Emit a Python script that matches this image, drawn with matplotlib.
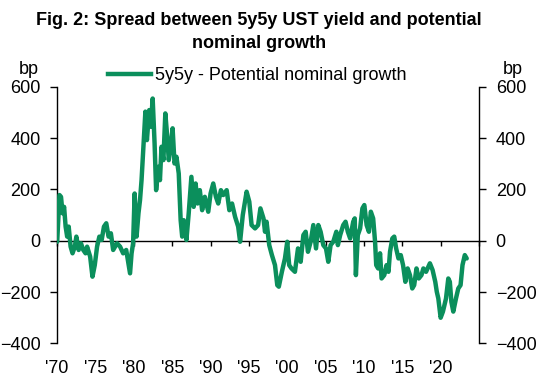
import matplotlib
matplotlib.use("Agg")
import matplotlib.pyplot as plt
from matplotlib.lines import Line2D

plt.rcParams['font.family'] = ['Liberation Sans', 'DejaVu Sans']

# decimal year, spread in bp (5y5y - potential nominal growth)
years = [
    1970.0, 1970.3, 1970.5, 1970.7, 1970.9, 1971.1, 1971.3, 1971.5, 1971.75, 1972.0,
    1972.3, 1972.5, 1972.8, 1973.1, 1973.4, 1973.7, 1973.9, 1974.3, 1974.6, 1974.9,
    1975.2, 1975.5, 1975.8, 1976.1, 1976.4, 1976.7, 1977.0, 1977.3, 1977.8, 1978.2,
    1978.6, 1979.0, 1979.5, 1979.7, 1979.9, 1980.1, 1980.35, 1980.6, 1980.8, 1981.0,
    1981.2, 1981.5, 1981.7, 1982.0, 1982.2, 1982.45, 1982.7, 1982.9, 1983.2, 1983.4,
    1983.6, 1983.85, 1984.1, 1984.35, 1984.55, 1984.8, 1985.05, 1985.3, 1985.55, 1985.85,
    1986.1, 1986.3, 1986.5, 1986.85, 1987.15, 1987.5, 1987.8, 1988.05, 1988.3, 1988.6,
    1988.9, 1989.25, 1989.7, 1990.0, 1990.35, 1990.7, 1991.0, 1991.35, 1991.65, 1992.1,
    1992.45, 1992.8, 1993.2, 1993.6, 1993.85, 1994.2, 1994.7, 1995.05, 1995.35, 1995.8,
    1996.2, 1996.5, 1996.9, 1997.1, 1997.3, 1997.65, 1998.0, 1998.4, 1998.7, 1998.9,
    1999.3, 1999.7, 2000.0, 2000.25, 2000.55, 2001.0, 2001.4, 2001.75, 2002.1, 2002.4,
    2002.7, 2003.05, 2003.4, 2003.75, 2004.05, 2004.35, 2004.7, 2005.05, 2005.35, 2005.65,
    2006.0, 2006.4, 2006.6, 2006.9, 2007.3, 2007.6, 2007.9, 2008.2, 2008.6, 2008.8,
    2008.95, 2009.2, 2009.5, 2009.8, 2010.05, 2010.35, 2010.65, 2010.9, 2011.2, 2011.45,
    2011.6, 2011.85, 2012.1, 2012.3, 2012.65, 2012.95, 2013.2, 2013.4, 2013.7, 2013.95,
    2014.2, 2014.5, 2014.8, 2015.1, 2015.4, 2015.7, 2016.0, 2016.3, 2016.55, 2016.85,
    2017.15, 2017.5, 2017.75, 2018.1, 2018.6, 2018.95, 2019.3, 2019.5, 2019.7, 2020.0,
    2020.3, 2020.7, 2021.0, 2021.2, 2021.4, 2021.65, 2022.0, 2022.3, 2022.6, 2022.85,
    2023.15, 2023.4,
]
spread = [
    -4, 178, 171, 107, 132, 55, 16, 55, -23, -49,
    -23, 16, -36, -10, -36, -49, -23, -62, -140, -95,
    -23, 16, 3, 55, 68, 16, 29, -36, -10, -23,
    -49, -36, -127, -49, -10, 184, 16, 107, 158, 236,
    340, 503, 392, 509, 444, 554, 379, 197, 288, 236,
    366, 314, 496, 405, 314, 366, 438, 301, 327, 262,
    80, 16, 80, 3, 107, 249, 132, 223, 145, 197,
    119, 171, 113, 184, 223, 171, 145, 197, 178, 197,
    119, 145, 93, 55, -4, 100, 191, 152, 61, 48,
    61, 126, 87, 35, 74, -17, -56, -95, -173, -179,
    -121, -69, -4, -95, -108, -121, -30, -82, 22, 35,
    -43, -4, 61, -30, 61, 35, -17, -30, -82, -17,
    -4, 35, -17, 22, 61, 74, 35, 9, 74, 87,
    -134, 22, 48, 126, 139, 61, 35, 113, 87, -4,
    -95, -108, -49, -147, -134, -95, -121, -43, 9, 16,
    -30, -69, -56, -95, -160, -108, -134, -186, -173, -108,
    -147, -134, -108, -121, -88, -114, -160, -199, -225, -300,
    -276, -225, -147, -160, -238, -276, -225, -186, -173, -95,
    -56, -69,
]

tick_years = [1970, 1975, 1980, 1985, 1990, 1995, 2000, 2005, 2010, 2015, 2020]
tick_labels = ["'70", "'75", "'80", "'85", "'90", "'95", "'00", "'05", "'10", "'15", "'20"]
y_ticks = [-400, -200, 0, 200, 400, 600]

series_label = "5y5y - Potential nominal growth"
title = "Fig. 2: Spread between 5y5y UST yield and potential\nnominal growth"
green = '#0B8F5C'
fs = 13

fig = plt.figure(figsize=(5.4, 3.8), dpi=100)
ax = fig.add_axes([0.1059, 0.0963, 0.7811, 0.6755])
ax.plot(years, spread, color=green, lw=3.2, solid_joinstyle='round', solid_capstyle='round', zorder=3)

ax.set_xlim(1970, 2025)
ax.set_ylim(-400, 600)
ax.spines['top'].set_visible(False)
ax.spines['bottom'].set_position(('data', 0))
ax.spines['bottom'].set_zorder(2)
for s in ['left', 'right', 'bottom']:
    ax.spines[s].set_linewidth(1.0)
    ax.spines[s].set_color('black')

ax.set_xticks(tick_years + [2025])
ax.tick_params(axis='x', direction='out', length=3.5, width=1.0, labelbottom=False)
ax.set_yticks(y_ticks)
ax.tick_params(axis='y', direction='out', length=5, width=1.0, labelsize=fs, pad=7,
               left=True, right=True, labelleft=True, labelright=True)

sec = ax.secondary_xaxis(0.0)
sec.set_xticks(tick_years, tick_labels)
sec.spines['bottom'].set_visible(False)
sec.tick_params(length=0, labelsize=fs, pad=12)

fig.text(0.054, 0.816, 'bp', fontsize=fs, ha='center', va='center')
fig.text(0.950, 0.816, 'bp', fontsize=fs, ha='center', va='center')

fig.text(0.48, 0.916, title, fontsize=13, fontweight='bold', ha='center', va='center',
         multialignment='center', linespacing=1.45)

handle = Line2D([], [], color=green, lw=3.2)
fig.legend([handle], [series_label], loc='center', bbox_to_anchor=(0.476, 0.8),
           frameon=False, fontsize=fs, handlelength=2.4, handletextpad=0.2,
           borderpad=0, borderaxespad=0)

fig.savefig('out.png', dpi=100)
